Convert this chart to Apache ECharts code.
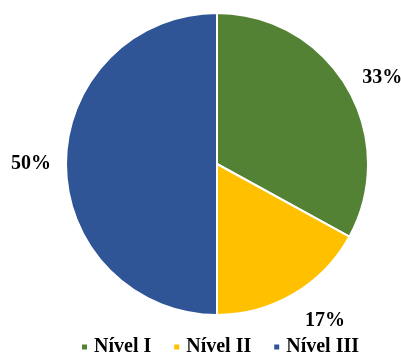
<!DOCTYPE html>
<html><head><meta charset="utf-8">
<script src="https://cdn.jsdelivr.net/npm/echarts@6/dist/echarts.min.js"></script>
<style>html,body{margin:0;padding:0;background:#fff}#c{width:401px;height:356px}</style>
</head><body><div id="c"></div>
<script>
const categories = ['Nível I', 'Nível II', 'Nível III'];
const values = [33, 17, 50];
const colors = ['#548235', '#FFC000', '#2F5597'];
const font = '"Liberation Serif","Times New Roman",serif';
const chart = echarts.init(document.getElementById('c'), null, {renderer: 'canvas'});
chart.setOption({
  animation: false,
  color: colors,
  legend: {
    top: 332, left: 75,
    icon: 'rect', itemWidth: 7, itemHeight: 7, itemGap: 21,
    textStyle: {fontFamily: font, fontWeight: 'bold', fontSize: 20, color: '#000', padding: [0,0,0,1]},
    data: categories
  },
  series: [{
    type: 'pie',
    center: [217, 164],
    radius: 151,
    startAngle: 90,
    clockwise: true,
    itemStyle: {borderColor: '#fff', borderWidth: 2},
    label: {
      show: true, position: 'outside', overflow: 'none',
      formatter: p => Math.round(p.percent) + '%',
      fontFamily: font, fontWeight: 'bold', fontSize: 20, color: '#000'
    },
    labelLine: {show: false, length: 12, length2: 0},
    labelLayout: p => p.dataIndex === 1 ? {dy: 17} : (p.dataIndex === 0 ? {dy: -3} : {dx: 2}),
    data: categories.map((c, i) => ({name: c, value: values[i]}))
  }]
});
</script></body></html>
